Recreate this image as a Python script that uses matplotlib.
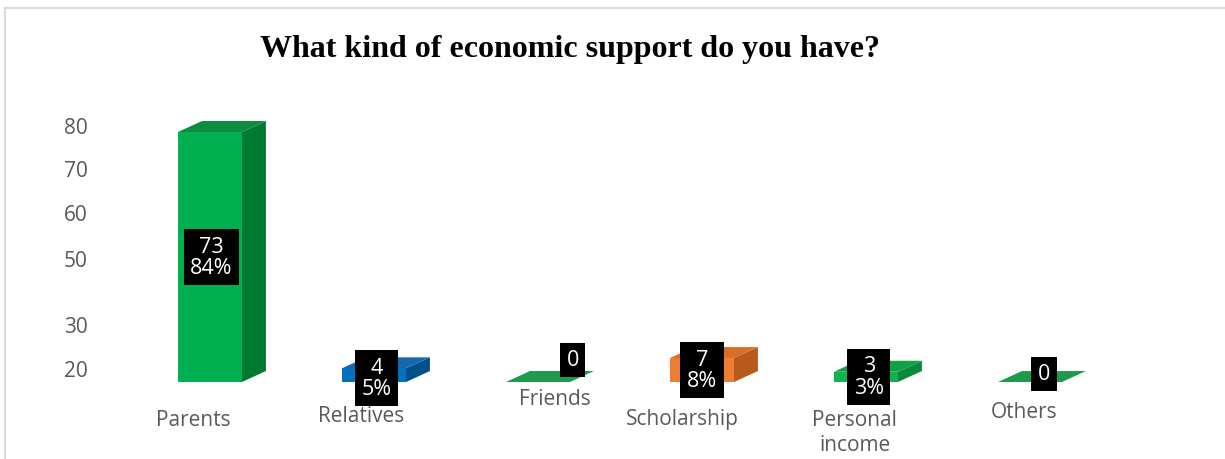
import matplotlib
matplotlib.use('Agg')
import matplotlib.pyplot as plt
from matplotlib.patches import Polygon
from matplotlib.lines import Line2D

# survey answers
categories = ['Parents', 'Relatives', 'Friends', 'Scholarship', 'Personal\nincome', 'Others']
counts = [73, 4, 0, 7, 3, 0]
percents = [84, 5, 0, 8, 3, 0]

# axis labels as printed on the chart (irregular spacing)
ytick_pos = [75.0, 62.5, 49.6, 36.2, 16.9, 4.1]
ytick_labels = ['80', '70', '60', '50', '30', '20']

# face colours: front, side, top
colors = [('#00B050', '#007A33', '#0B8C3F'),
          ('#0070C0', '#004F8A', '#1767B0'),
          ('#1E9A4C', '#157A3A', '#1E9A4C'),
          ('#ED7D31', '#B85A1C', '#D86E27'),
          ('#13B04F', '#0C8A3C', '#12A047'),
          ('#1E9A4C', '#157A3A', '#1E9A4C')]

# text nudges in points (category label dx, dy / value label dx, dy)
cat_nudge = [(-12, -27), (-9, -24), (12, -12), (-14, -26), (-8, -36), (-4, -21)]
val_nudge = [(1, 0), (2, -2), (25, 16), (0, 0), (2, 0), (10, 6)]

W = 0.39       # front width, category units
DX = 0.146     # depth offset, category units
DY = 3.2       # depth offset, value units

FONT = 'Open Sans'
GREY = '#595959'


def draw_bar(ax, x, v, cols):
    front, side, top = cols
    x0, x1 = x - W / 2, x + W / 2
    if v > 0:
        ax.add_patch(Polygon([(x1, 0), (x1 + DX, DY), (x1 + DX, v + DY), (x1, v)],
                             closed=True, fc=side, ec='none'))
        ax.add_patch(Polygon([(x0, v), (x1, v), (x1 + DX, v + DY), (x0 + DX, v + DY)],
                             closed=True, fc=top, ec='none'))
        ax.bar(x, v, width=W, color=front, edgecolor='none')
    else:
        ax.add_patch(Polygon([(x0, 0), (x1, 0), (x1 + DX, DY), (x0 + DX, DY)],
                             closed=True, fc=top, ec='none'))


def main():
    fig = plt.figure(figsize=(12.25, 4.6), dpi=100)
    ax = fig.add_axes([100 / 1225, 77 / 460, 1100 / 1225, 283 / 460])

    for i, v in enumerate(counts):
        draw_bar(ax, i, v, colors[i])

        txt = str(v) if v == 0 else '{0}\n{1}%'.format(v, percents[i])
        ax.annotate(txt, xy=(i, v / 2), xytext=val_nudge[i], textcoords='offset points',
                    ha='center', va='center', color='white', fontsize=15.5, family=FONT,
                    linespacing=1.05,
                    bbox=dict(boxstyle='square,pad=0.3', fc='black', ec='none'))

        ax.annotate(categories[i], xy=(i, 0), xytext=cat_nudge[i], textcoords='offset points',
                    ha='center', va='center', color=GREY, fontsize=15, family=FONT,
                    linespacing=1.3, annotation_clip=False)

    ax.set_xlim(-0.6707, 6.0366)
    ax.set_ylim(0, 82.63)
    ax.set_xticks([])
    ax.set_yticks(ytick_pos)
    ax.set_yticklabels(ytick_labels, fontsize=15, color=GREY, family=FONT)
    ax.tick_params(axis='y', length=0, pad=9)
    for s in ax.spines.values():
        s.set_visible(False)

    fig.text(570 / 1225, 1 - 50 / 460, 'What kind of economic support do you have?',
             ha='center', va='center', fontsize=23, fontweight='bold',
             family='Liberation Serif', color='black')

    # light frame round the chart area
    fig.add_artist(Line2D([5 / 1225, 5 / 1225], [0, 1 - 9 / 460], color='#D9D9D9', lw=1.5))
    fig.add_artist(Line2D([5 / 1225, 1], [1 - 9 / 460, 1 - 9 / 460], color='#D9D9D9', lw=1.5))

    fig.savefig('out.png', dpi=100, facecolor='white')


if __name__ == "__main__":
    main()
